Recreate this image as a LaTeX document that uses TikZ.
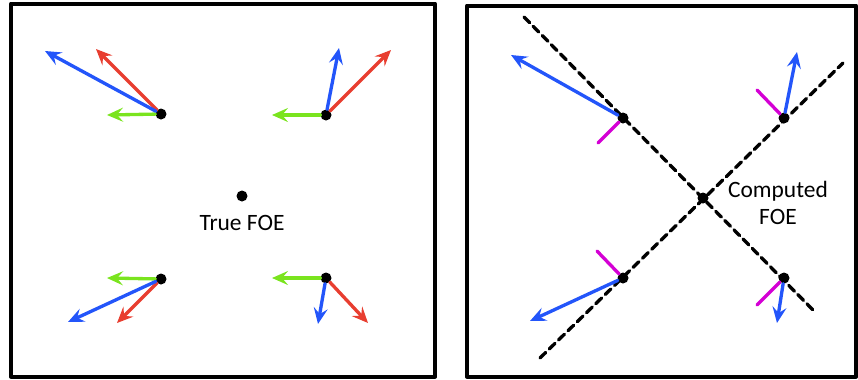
\documentclass[tikz,border=0pt]{standalone}
\usepackage{fontspec}
\setmainfont{Carlito}
\usetikzlibrary{arrows.meta}

\definecolor{flowblue}{RGB}{35,85,250}
\definecolor{flowred}{RGB}{232,62,48}
\definecolor{flowgreen}{RGB}{122,228,30}
\definecolor{normmag}{RGB}{212,0,212}

\tikzset{
  frame/.style={draw, line width=0.12cm},
  pt/.style={circle, fill=black, inner sep=0pt, minimum size=0.33cm},
  vec/.style={->, line width=0.1cm},
  perp/.style={normmag, line width=0.1cm},
  ray/.style={line width=0.1cm, dash pattern=on 0.24cm off 0.15cm},
  lbl/.style={font=\fontsize{20}{23}\selectfont, align=center}
}

\begin{document}
\begin{tikzpicture}[x=0.03cm, y=-0.03cm, >={Stealth[length=0.48cm, width=0.42cm, inset=0.18cm]}, line cap=round, line join=round]

\useasboundingbox (0,0) rectangle (858,379);

% frames
\draw[frame] (11,3.5) rectangle (435,376.5);
\draw[frame] (467,5.5) rectangle (856,376.5);

% left panel: flow vectors
\node[pt] (tl) at (161,114) {};
\node[pt] (tr) at (326,115) {};
\node[pt] (bl) at (161,279) {};
\node[pt] (br) at (326,278) {};
\node[pt] (foe) at (242,196) {};
\node[lbl, below=0.28cm] (foelbl) at (foe.south) {True FOE};

\draw[vec, flowgreen] (tl) -- (107,115);
\draw[vec, flowred] (tl) -- (96,49);
\draw[vec, flowblue] (tl) -- (45,51);

\draw[vec, flowgreen] (tr) -- (272,115);
\draw[vec, flowred] (tr) -- (391,50);
\draw[vec, flowblue] (tr) -- (339,48);

\draw[vec, flowgreen] (bl) -- (107,278);
\draw[vec, flowred] (bl) -- (117,323);
\draw[vec, flowblue] (bl) -- (68,322);

\draw[vec, flowgreen] (br) -- (272,278);
\draw[vec, flowred] (br) -- (368,323);
\draw[vec, flowblue] (br) -- (318,324);

% right panel: constraint lines
\coordinate (d1a) at (524,17);
\coordinate (d1b) at (816,313);
\coordinate (d2a) at (540,358);
\coordinate (d2b) at (843,63);
\draw[ray] (d1a) -- (d1b);
\draw[ray] (d2a) -- (d2b);

\node[pt] (ctl) at (623,118) {};
\node[pt] (ctr) at (784,118) {};
\node[pt] (cbl) at (623,278) {};
\node[pt] (cbr) at (784,278) {};
\node[pt] (cfoe) at (703,198) {};
\node[lbl] (cfoelbl) at (778,203) {Computed\\FOE};

\draw[perp] (ctl) -- (598,143);
\draw[vec, flowblue] (ctl) -- (511,55);

\draw[perp] (ctr) -- (757,90);
\draw[vec, flowblue] (ctr) -- (797,52);

\draw[perp] (cbl) -- (597,251);
\draw[vec, flowblue] (cbl) -- (530,321);

\draw[perp] (cbr) -- (757,305);
\draw[vec, flowblue] (cbr) -- (777,323);

\end{tikzpicture}
\end{document}
